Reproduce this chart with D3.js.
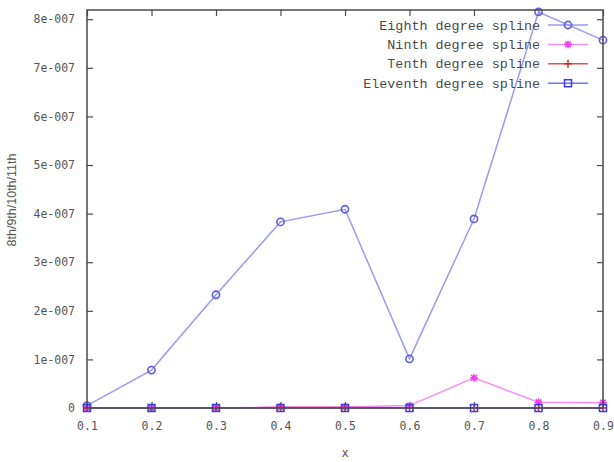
<!DOCTYPE html>
<html>
<head>
<meta charset="utf-8">
<script src="https://cdn.jsdelivr.net/npm/d3@7"></script>
<style>
  html, body { margin: 0; padding: 0; background: #fff; }
  svg { display: block; }
</style>
</head>
<body>
<svg id="chart" width="614" height="462"></svg>
<script>
// x positions shared by every series
const xs = [0.1, 0.2, 0.3, 0.4, 0.5, 0.6, 0.7, 0.8, 0.9];

// spline results per degree
const eighth   = [5e-9, 7.8e-8, 2.33e-7, 3.83e-7, 4.09e-7, 1.01e-7, 3.89e-7, 8.15e-7, 7.57e-7];
const ninth    = [0, 0, 0, 2e-9, 2e-9, 5e-9, 6.2e-8, 1.2e-8, 1.1e-8];
const tenth    = [0, 0, 0, 1e-9, 1e-9, 0, 0, 0, 0];
const eleventh = [0, 0, 0, 0, 0, 0, 0, 0, 0];

const seriesNames = ["Eighth degree spline", "Ninth degree spline", "Tenth degree spline", "Eleventh degree spline"];
const yTicks = [0, 1e-7, 2e-7, 3e-7, 4e-7, 5e-7, 6e-7, 7e-7, 8e-7];
const yTickLabels = ["0", "1e-007", "2e-007", "3e-007", "4e-007", "5e-007", "6e-007", "7e-007", "8e-007"];
const xTickLabels = ["0.1", "0.2", "0.3", "0.4", "0.5", "0.6", "0.7", "0.8", "0.9"];

const svg = d3.select("#chart");
const plotLeft = 87, plotRight = 603, plotTop = 10, plotBottom = 408;

const x = d3.scaleLinear().domain([0.1, 0.9]).range([plotLeft, plotRight]);
const y = d3.scaleLinear().domain([0, 8.19e-7]).range([plotBottom, plotTop]);

const frameColor = "#4a4a4a";
const textColor = "#555";
const tickFont = "'DejaVu Sans Mono', monospace";

// ticks mirrored on all four sides, drawn inward
const tickLen = 6;
const yAxisL = d3.axisLeft(y).tickValues(yTicks).tickSizeInner(-tickLen).tickSizeOuter(0)
  .tickFormat((d, i) => yTickLabels[i]).tickPadding(12);
const yAxisR = d3.axisRight(y).tickValues(yTicks).tickSizeInner(-tickLen).tickSizeOuter(0).tickFormat("");
const xAxisB = d3.axisBottom(x).tickValues(xs).tickSizeInner(-tickLen).tickSizeOuter(0)
  .tickFormat((d, i) => xTickLabels[i]).tickPadding(14);
const xAxisT = d3.axisTop(x).tickValues(xs).tickSizeInner(-tickLen).tickSizeOuter(0).tickFormat("");

function styleAxis(g) {
  g.select(".domain").remove();
  g.selectAll(".tick line").attr("stroke", frameColor).attr("stroke-width", 1.2);
  g.selectAll(".tick text").attr("fill", textColor).style("font-family", tickFont).style("font-size", "11.5px");
}

svg.append("g").attr("transform", `translate(${plotLeft},0)`).call(yAxisL).call(styleAxis);
svg.append("g").attr("transform", `translate(${plotRight},0)`).call(yAxisR).call(styleAxis);
svg.append("g").attr("transform", `translate(0,${plotBottom})`).call(xAxisB).call(styleAxis);
svg.append("g").attr("transform", `translate(0,${plotTop})`).call(xAxisT).call(styleAxis);

// axis titles
svg.append("text")
  .attr("transform", `translate(16,200) rotate(-90)`)
  .attr("text-anchor", "middle")
  .attr("fill", textColor)
  .style("font-family", "'Liberation Sans', Arial, sans-serif")
  .style("font-size", "12.5px")
  .text("8th/9th/10th/11th");

svg.append("text")
  .attr("x", (plotLeft + plotRight) / 2)
  .attr("y", 457)
  .attr("text-anchor", "middle")
  .attr("fill", textColor)
  .style("font-family", tickFont)
  .style("font-size", "12px")
  .text("x");

// marker shapes
const markers = {
  circle: (g, cx, cy, col) => g.append("circle").attr("cx", cx).attr("cy", cy).attr("r", 3.6)
    .attr("fill", "none").attr("stroke", col).attr("stroke-width", 1.6),
  star: (g, cx, cy, col) => {
    const s = 3.8;
    const p = `M${cx - s},${cy}H${cx + s}M${cx},${cy - s}V${cy + s}` +
      `M${cx - s * 0.75},${cy - s * 0.75}L${cx + s * 0.75},${cy + s * 0.75}` +
      `M${cx - s * 0.75},${cy + s * 0.75}L${cx + s * 0.75},${cy - s * 0.75}`;
    g.append("path").attr("d", p).attr("stroke", col).attr("stroke-width", 1.6).attr("fill", "none");
  },
  plus: (g, cx, cy, col) => {
    const s = 4;
    g.append("path").attr("d", `M${cx - s},${cy}H${cx + s}M${cx},${cy - s}V${cy + s}`)
      .attr("stroke", col).attr("stroke-width", 1.4).attr("fill", "none");
  },
  square: (g, cx, cy, col) => g.append("rect").attr("x", cx - 3.5).attr("y", cy - 3.5)
    .attr("width", 7).attr("height", 7).attr("fill", "none").attr("stroke", col).attr("stroke-width", 1.5)
};

const series = [
  { name: seriesNames[0], values: eighth,   line: "#9a9af2", mark: "#5c5ce0", shape: "circle" },
  { name: seriesNames[1], values: ninth,    line: "#f68cf6", mark: "#f040f0", shape: "star" },
  { name: seriesNames[2], values: tenth,    line: "#e85050", mark: "#e02020", shape: "plus" },
  { name: seriesNames[3], values: eleventh, line: "#7070ee", mark: "#3a3ae0", shape: "square" }
];

const line = d3.line().x(d => x(d[0])).y(d => y(d[1]));

const plot = svg.append("g");
series.forEach(s => {
  const pts = xs.map((v, i) => [v, s.values[i]]);
  plot.append("path").datum(pts).attr("d", line)
    .attr("fill", "none").attr("stroke", s.line).attr("stroke-width", 1.5);
  const mg = plot.append("g");
  pts.forEach(p => markers[s.shape](mg, x(p[0]), y(p[1]), s.mark));
});

// frame
svg.append("rect")
  .attr("x", plotLeft).attr("y", plotTop)
  .attr("width", plotRight - plotLeft).attr("height", plotBottom - plotTop)
  .attr("fill", "none").attr("stroke", frameColor).attr("stroke-width", 1.5);

// legend
const legend = svg.append("g");
series.forEach((s, i) => {
  const ly = 25 + i * 19.4;
  legend.append("text")
    .attr("x", 540).attr("y", ly).attr("dy", "0.35em")
    .attr("text-anchor", "end")
    .attr("fill", "#4a4a4a")
    .style("font-family", "'Liberation Mono', 'Courier New', monospace")
    .style("font-size", "13.4px")
    .text(s.name);
  legend.append("line")
    .attr("x1", 548).attr("x2", 588).attr("y1", ly).attr("y2", ly)
    .attr("stroke", s.line).attr("stroke-width", 1.5);
  markers[s.shape](legend, 568, ly, s.mark);
});
</script>
</body>
</html>
